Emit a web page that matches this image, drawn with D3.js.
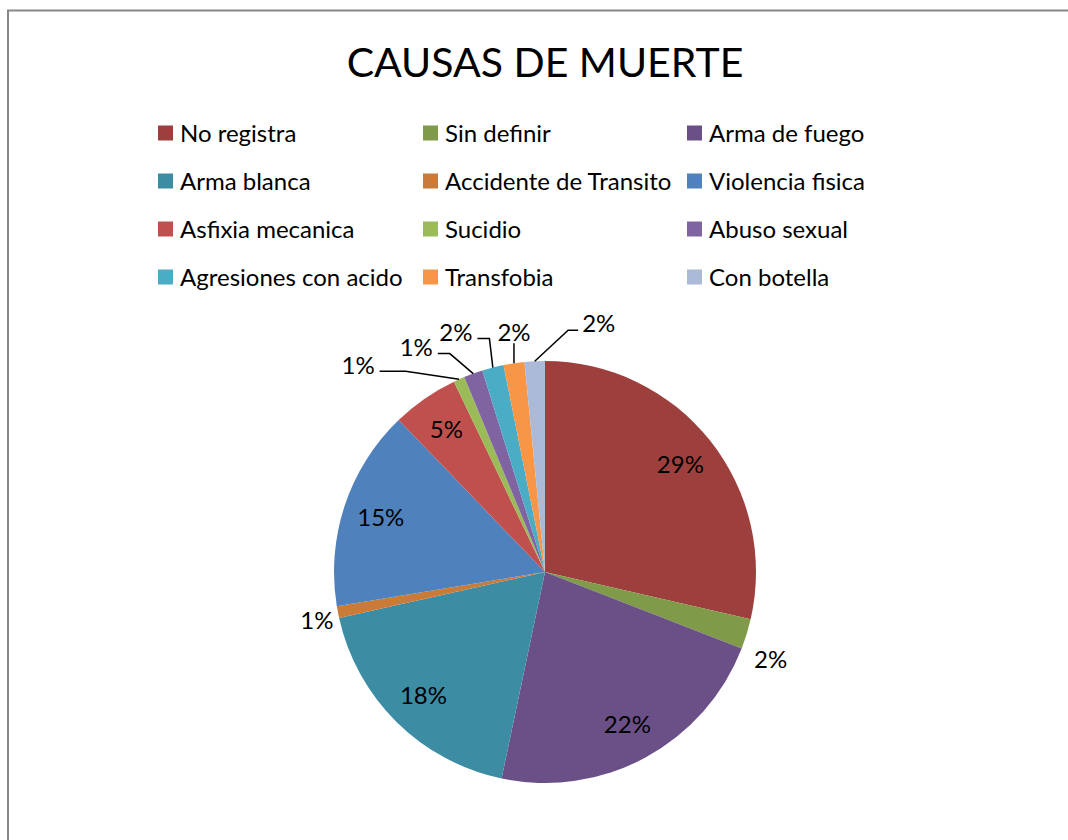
<!DOCTYPE html>
<html>
<head>
<meta charset="utf-8">
<script src="https://cdn.jsdelivr.net/npm/d3@7"></script>
<style>
  body { margin: 0; background: #fff; }
  svg { display: block; }
  text { font-family: Lato, "Open Sans", sans-serif; fill: #000; }
</style>
</head>
<body>
<div id="chart"></div>
<script>
// Chart data (percent of cases)
var chartTitle = "CAUSAS DE MUERTE";
var categories = ["No registra", "Sin definir", "Arma de fuego", "Arma blanca",
    "Accidente de Transito", "Violencia fisica", "Asfixia mecanica", "Sucidio",
    "Abuso sexual", "Agresiones con acido", "Transfobia", "Con botella"];
var shares = [28.6, 2.3, 22.4, 18.2, 0.9, 15.4, 5.1, 0.85, 1.45, 1.65, 1.6, 1.55];

// Styling
var sliceColors = ["#9D403D", "#7F9A48", "#6A5087", "#3C8DA3", "#CB7B38", "#4F81BD",
    "#C0504D", "#9BBB59", "#8064A2", "#4BACC6", "#F79646", "#AABAD7"];

// label offsets from the slice's outer edge, for labels drawn outside the pie
var labelNudge = [null, [24, 25], null, null, [-21, 8], null, null,
    [-101, -14], [-57, -26], [-37, -35], [0, -31], [64, -38]];
var hasLeader = [false, false, false, false, false, false, false, true, true, true, true, true];

var svgWidth = 1068, svgHeight = 840;
var center = {x: 545, y: 572};
var radius = 211;

var svg = d3.select("#chart")
    .append("svg")
    .attr("width", svgWidth)
    .attr("height", svgHeight);

// chart area border
svg.append("rect")
    .attr("x", 8)
    .attr("y", 10.5)
    .attr("width", 1200)
    .attr("height", 1000)
    .attr("fill", "none")
    .attr("stroke", "#878787")
    .attr("stroke-width", 2);

// Title
svg.append("text")
    .attr("x", 545)
    .attr("y", 77)
    .attr("text-anchor", "middle")
    .style("font-size", "41px")
    .text(chartTitle);

// Legend, three columns
var legendCols = [158, 423, 687];
var legend = svg.append("g").selectAll("g")
    .data(categories)
    .enter()
    .append("g")
    .attr("transform", (d, i) => `translate(${legendCols[i % 3]}, ${133 + Math.floor(i / 3) * 48})`);

legend.append("rect")
    .attr("x", 0)
    .attr("y", -7.5)
    .attr("width", 15)
    .attr("height", 15)
    .attr("fill", (d, i) => sliceColors[i]);

legend.append("text")
    .attr("x", 22)
    .attr("dy", "0.36em")
    .style("font-size", "24px")
    .text(d => d);

// Pie
var total = d3.sum(shares);
var pie = d3.pie().sort(null).value(d => d);
var arcs = pie(shares);
var arc = d3.arc().innerRadius(0).outerRadius(radius);

var pieGroup = svg.append("g")
    .attr("transform", `translate(${center.x}, ${center.y})`);

pieGroup.selectAll("path")
    .data(arcs)
    .enter()
    .append("path")
    .attr("d", arc)
    .attr("fill", (d, i) => sliceColors[i]);

function polar(a, r) {
    return [Math.sin(a) * r, -Math.cos(a) * r];
}

var labels = pieGroup.append("g");
arcs.forEach(function (d, i) {
    var mid = (d.startAngle + d.endAngle) / 2;
    var txt = Math.round(d.value / total * 100) + "%";
    var cx, cy;
    var edge = polar(mid, radius);
    if (!labelNudge[i]) {
        var p = polar(mid, radius * 0.82);
        cx = p[0]; cy = p[1];
    } else {
        cx = edge[0] + labelNudge[i][0];
        cy = edge[1] + labelNudge[i][1];
    }
    var t = labels.append("text")
        .attr("x", cx)
        .attr("y", cy)
        .attr("dy", "0.36em")
        .attr("text-anchor", "middle")
        .style("font-size", "24px")
        .text(txt);

    if (hasLeader[i]) {
        var w = t.node().getComputedTextLength();
        var pts;
        if (cx < edge[0] - 10) {
            var ax = cx + w / 2 + 5, ay = cy + 6;
            pts = [edge, [ax + (i == 7 ? 26 : 12), ay], [ax, ay]];
        } else if (cx > edge[0] + 10) {
            var bx = cx - w / 2 - 4, by = cy + 7;
            pts = [edge, [bx - 10, by], [bx, by]];
        } else {
            pts = [edge, [cx, cy + 11]];
        }
        labels.append("path")
            .attr("d", d3.line()(pts))
            .attr("fill", "none")
            .attr("stroke", "#000")
            .attr("stroke-width", 1.5);
    }
});
</script>
</body>
</html>
